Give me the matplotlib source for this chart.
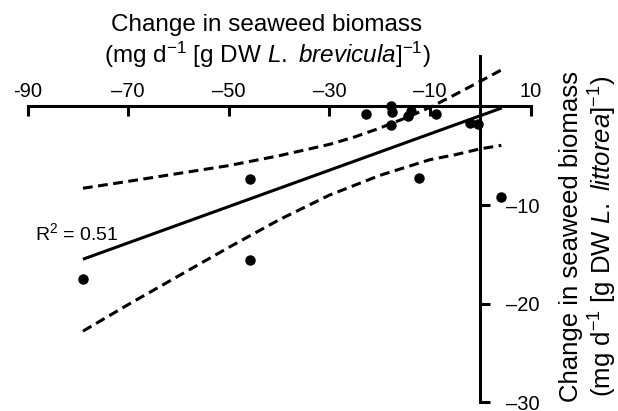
import matplotlib
matplotlib.use('Agg')
import matplotlib.pyplot as plt

plt.rcParams['font.family'] = ['Liberation Sans', 'DejaVu Sans']
plt.rcParams['mathtext.fontset'] = 'custom'
plt.rcParams['mathtext.rm'] = 'Liberation Sans'
plt.rcParams['mathtext.it'] = 'Liberation Sans:italic'
plt.rcParams['mathtext.sf'] = 'Liberation Sans'

# --- data ---
brevicula_change = [-79.0, -45.8, -45.8, -22.8, -17.7, -17.5, -17.7,
                    -14.4, -13.7, -8.7, -2.1, -0.4, -12.2, 4.2]
littorea_change = [-17.5, -7.4, -15.6, -0.8, 0.0, -0.6, -1.9,
                   -1.0, -0.5, -0.8, -1.7, -1.8, -7.3, -9.2]

# regression line
fit_x = [-79.0, 4.3]
fit_y = [-15.5, -0.15]

# 95% confidence band
band_x = [-79, -70, -60, -50, -40, -30, -25, -20, -15, -10, -5, 0, 4.2]
upper_y = [-8.3, -7.6, -6.8, -6.0, -5.0, -3.85, -3.1, -2.2, -1.2,
           -0.1, 1.2, 2.55, 3.7]
lower_y = [-22.8, -20.1, -17.2, -14.3, -11.5, -9.0, -8.0, -7.0, -6.2,
           -5.4, -4.9, -4.3, -3.95]

x_ticks = [-90, -70, -50, -30, -10, 10]
x_ticklabels = ['-90', '–70', '–50', '–30', '–10', '10']
y_ticks = [-10, -20, -30]
y_ticklabels = ['–10', '–20', '–30']

r2_text = 'R$^2$ = 0.51'

# --- figure ---
fig = plt.figure(figsize=(6.18, 4.11), dpi=100)
ax = fig.add_axes([0, 0, 1, 1])
ax.set_xlim(-95.5, 27.4)
ax.set_ylim(-30.9, 10.8)

for s in ('left', 'bottom'):
    ax.spines[s].set_visible(False)
ax.spines['top'].set_position(('data', 0))
ax.spines['top'].set_bounds(-90, 10)
ax.spines['right'].set_position(('data', 0))
ax.spines['right'].set_bounds(-30, 5.1)
for s in ('top', 'right'):
    ax.spines[s].set_linewidth(2.2)
    ax.spines[s].set_zorder(3)

ax.xaxis.set_ticks_position('top')
ax.yaxis.set_ticks_position('right')
ax.set_xticks(x_ticks, x_ticklabels)
ax.set_yticks(y_ticks, y_ticklabels)
ax.tick_params(axis='x', direction='in', length=7.5, width=2.2, pad=4,
               labelsize=14.5)
ax.tick_params(axis='y', direction='out', length=7.5, width=2.2, pad=11,
               labelsize=14.5)

ax.plot(band_x, upper_y, color='black', lw=2.2, dashes=(3.2, 1.8))
ax.plot(band_x, lower_y, color='black', lw=2.2, dashes=(3.2, 1.8))
ax.plot(fit_x, fit_y, color='black', lw=2.2, solid_capstyle='butt')
ax.plot(brevicula_change, littorea_change, 'o', color='black', ms=6.5,
        zorder=4, clip_on=False)

ax.text(-88.5, -12.9, r2_text, ha='left', va='center', fontsize=14)

fig.text(267 / 618, 1 - 42 / 411,
         'Change in seaweed biomass\n'
         '(mg d$^{-1}$ [g DW $\\mathit{L.\\ brevicula}$]$^{-1}$)',
         ha='center', va='center', fontsize=17.5, multialignment='center')
fig.text(589 / 618, 1 - 236 / 411,
         'Change in seaweed biomass\n'
         '(mg d$^{-1}$ [g DW $\\mathit{L.\\ littorea}$]$^{-1}$)',
         ha='center', va='center', rotation=90, fontsize=18.5,
         multialignment='center', linespacing=1.15)

fig.savefig('out.png', dpi=100, facecolor='white')
